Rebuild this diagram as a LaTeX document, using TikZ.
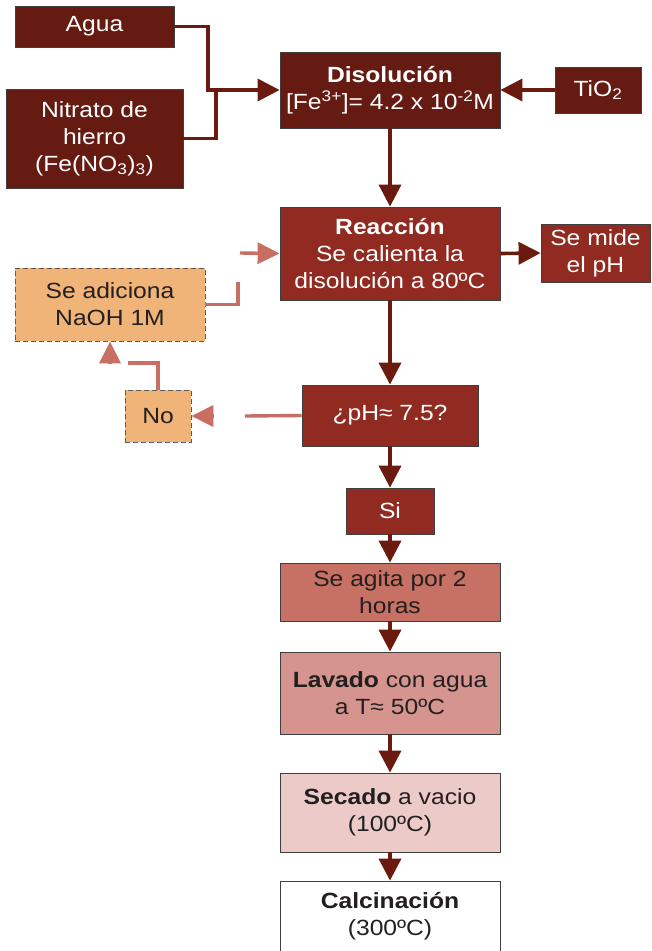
\documentclass[tikz,border=0pt]{standalone}
\usepackage{fontspec}
\setmainfont{Liberation Sans}[FakeStretch=1.12]
\usetikzlibrary{arrows.meta,calc}
\definecolor{darkbox}{HTML}{661B12}
\definecolor{redbox}{HTML}{912A20}
\definecolor{darkline}{HTML}{6B1A10}
\definecolor{agita}{HTML}{C77064}
\definecolor{lavado}{HTML}{D5958E}
\definecolor{secado}{HTML}{EBCAC8}
\definecolor{orangebox}{HTML}{F0B478}
\definecolor{lightline}{HTML}{C96E62}
\definecolor{darktext}{HTML}{231F20}
\definecolor{bordergray}{HTML}{3F3F3F}
\tikzset{
  box/.style={draw=bordergray, line width=0.8pt, inner sep=0pt, align=center,
    font=\fontsize{22}{27}\selectfont, text=white},
  dbox/.style={box, fill=darkbox},
  rbox/.style={box, fill=redbox},
  obox/.style={box, fill=orangebox, text=darktext, dash pattern=on 5pt off 3pt, draw=bordergray!85},
  dl/.style={draw=darkline, line width=3.6pt, line cap=rect},
  arr/.style={draw=darkline, line width=3.6pt, -{Triangle[length=22pt,width=22pt]}},
  ll/.style={draw=lightline, line width=3.4pt},
  larr/.style={draw=lightline, line width=3.4pt, -{Triangle[length=22pt,width=21pt]}},
}
\begin{document}
\begin{tikzpicture}[x=1pt,y=-1pt]
\useasboundingbox (0,0) rectangle (651,951);
\fill[white] (0,0) rectangle (651,951);
% nodes
\node[dbox, minimum width=159pt, minimum height=41pt] (agua) at (94.5,26.5) {Agua};
\node[dbox, minimum width=177pt, minimum height=99pt] (nit) at (94.5,138.5) {Nitrato de\\hierro\\(Fe(NO\textsubscript{3})\textsubscript{3})};
\node[dbox, minimum width=220pt, minimum height=76pt] (dis) at (390,90) {\textbf{Disolución}\\{[}Fe\textsuperscript{3+}]= 4.2 x 10\textsuperscript{-2}M};
\node[dbox, minimum width=86pt, minimum height=46pt] (tio) at (598,90) {TiO\textsubscript{2}};
\node[rbox, minimum width=220pt, minimum height=93pt] (reac) at (390,253.5) {\textbf{Reacción}\\Se calienta la\\disolución a 80ºC};
\node[rbox, minimum width=109pt, minimum height=58pt] (mide) at (595.5,253) {Se mide\\el pH};
\node[obox, minimum width=190pt, minimum height=73pt] (naoh) at (110,304.5) {Se adiciona\\NaOH 1M};
\node[obox, minimum width=66pt, minimum height=52pt] (no) at (158,416) {No};
\node[rbox, minimum width=176pt, minimum height=61pt] (ph) at (390,415.5) {¿pH≈ 7.5?};
\node[rbox, minimum width=88pt, minimum height=46pt] (si) at (390,511) {Si};
\node[box, fill=agita, text=darktext, minimum width=220pt, minimum height=58pt] (agi) at (390,592) {Se agita por 2\\horas};
\node[box, fill=lavado, text=darktext, minimum width=220pt, minimum height=82pt] (lav) at (390,693) {\textbf{Lavado} con agua\\a T≈ 50ºC};
\node[box, fill=secado, text=darktext, minimum width=220pt, minimum height=79pt] (sec) at (390,812.5) {\textbf{Secado} a vacio\\(100ºC)};
\node[box, fill=white, text=darktext, minimum width=220pt, minimum height=71pt] (cal) at (390,916.5) {\textbf{Calcinación}\\(300ºC)};
% coordinates
\coordinate (j1) at (208,90);
\coordinate (j2) at (216,90);
\coordinate (c1) at (238,282);
\coordinate (c2) at (240,253);
\coordinate (c3) at (245,416);
\coordinate (c4) at ($(no.east)+(23,0)$);
\coordinate (c5) at (128,363);
\coordinate (c6) at ($(naoh.south)+(0,23)$);
% dark connectors
\draw[dl] (agua.east) -| (j1);
\draw[dl] (nit.east) -| (j2);
\draw[arr] (j1) -- (dis.west);
\draw[arr] (tio.west) -- (dis.east);
\draw[arr] (dis.south) -- (reac.north);
\draw[arr] (reac.east) -- (mide.west);
\draw[arr] (reac.south) -- (ph.north);
\draw[arr] (ph.south) -- (si.north);
\draw[arr] (si.south) -- (agi.north);
\draw[arr] (agi.south) -- (lav.north);
\draw[arr] (lav.south) -- (sec.north);
\draw[arr] (sec.south) -- (cal.north);
% light connectors
\draw[ll] (naoh.east) -| (c1);
\draw[larr] (c2) -- (reac.west);
\draw[ll] (ph.west) -- (c3);
\draw[larr, shorten <=1pt] (c4) -- (no.east);
\draw[ll] (no.north) |- (c5);
\draw[larr, shorten <=1pt] (c6) -- (naoh.south);
\end{tikzpicture}
\end{document}
